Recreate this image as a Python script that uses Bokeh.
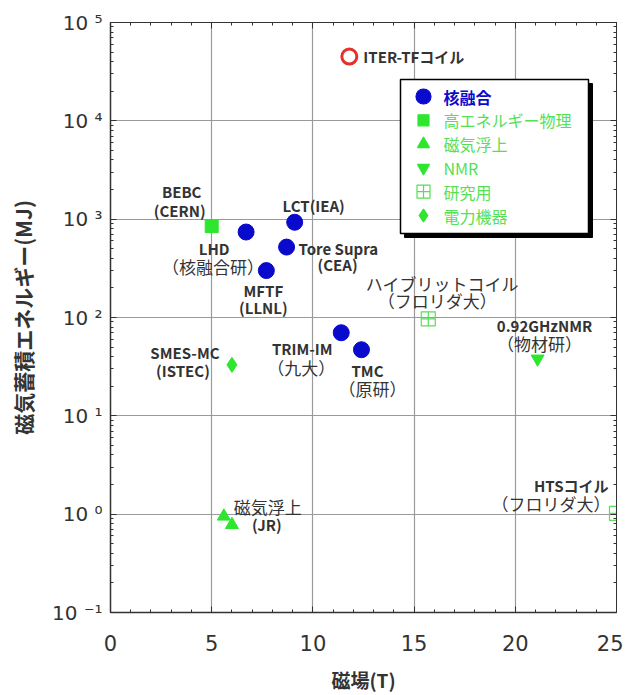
from bokeh.plotting import figure
from bokeh.models import (ColumnDataSource, LinearAxis, LogAxis, Range1d, LinearScale,
                          SingleIntervalTicker, LogTicker, CustomJSTickFormatter)
from bokeh.core.properties import value
from bokeh.embed import file_html
from bokeh.resources import INLINE

# ---------------- data ----------------
fusion_field = [6.7, 9.1, 8.7, 7.7, 11.4, 12.4]          # LHD, LCT, Tore Supra, MFTF, TRIM-IM, TMC
fusion_energy = [740, 930, 520, 300, 70, 47]
hep_field = [5.0]                                         # BEBC
hep_energy = [850]
maglev_field = [5.6, 6.0]                                 # JR maglev
maglev_energy = [0.95, 0.78]
nmr_field = [21.1]                                        # 0.92GHz NMR
nmr_energy = [38]
research_field = [15.7, 25.0]                             # hybrid coil, HTS coil
research_energy = [97, 1.02]
power_field = [6.0]                                       # SMES-MC
power_energy = [33]
iter_field = [11.8]                                       # ITER-TF
iter_energy = [45000]

legend_labels = ["核融合", "高エネルギー物理", "磁気浮上", "NMR", "研究用", "電力機器"]
x_label = "磁場(T)"
y_label = "磁気蓄積エネルギー(MJ)"

# annotation: text, anchor x, anchor y, dx(px), dy(px, down), align, bold
notes = [
    ("ITER-TFコイル", iter_field[0], iter_energy[0], 14, 0, "left", True),
    ("BEBC", hep_field[0], hep_energy[0], -30, -35, "center", True),
    ("(CERN)", hep_field[0], hep_energy[0], -32, -16, "center", True),
    ("LHD", fusion_field[0], fusion_energy[0], -32, 16, "center", True),
    ("（核融合研）", fusion_field[0], fusion_energy[0], -33, 34, "center", False),
    ("LCT(IEA)", fusion_field[1], fusion_energy[1], 19, -17, "center", True),
    ("Tore Supra", fusion_field[2], fusion_energy[2], 12, 1, "left", True),
    ("(CEA)", fusion_field[2], fusion_energy[2], 51, 17, "center", True),
    ("MFTF", fusion_field[3], fusion_energy[3], -3, 20, "center", True),
    ("(LLNL)", fusion_field[3], fusion_energy[3], -3, 37, "center", True),
    ("TRIM-IM", fusion_field[4], fusion_energy[4], -39, 16, "center", True),
    ("（九大）", fusion_field[4], fusion_energy[4], -40, 35, "center", False),
    ("TMC", fusion_field[5], fusion_energy[5], 6, 21, "center", True),
    ("（原研）", fusion_field[5], fusion_energy[5], 11, 39, "center", False),
    ("SMES-MC", power_field[0], power_energy[0], -47, -12, "center", True),
    ("(ISTEC)", power_field[0], power_energy[0], -49, 6, "center", True),
    ("ハイブリットコイル", research_field[0], research_energy[0], 14, -35, "center", False),
    ("（フロリダ大）", research_field[0], research_energy[0], 9, -18, "center", False),
    ("0.92GHzNMR", nmr_field[0], nmr_energy[0], 7, -33, "center", True),
    ("（物材研）", nmr_field[0], nmr_energy[0], 2, -15, "center", False),
    ("磁気浮上", maglev_field[0], maglev_energy[0], 10, -10, "left", False),
    ("(JR)", maglev_field[0], maglev_energy[0], 43, 8, "center", True),
    ("HTSコイル", research_field[1], research_energy[1], -8, -28, "right", True),
    ("（フロリダ大）", research_field[1], research_energy[1], -6, -10, "right", False),
]

# ---------------- styles ----------------
BLUE = "#0a0acc"
GREEN = "#2ee62e"
LGREEN = "#55e055"
RED = "#e8302a"
TXT = "#333333"
JP = "Noto Sans CJK JP"
FW, FH = 506, 590

p = figure(x_range=(0, 25), y_range=(0.1, 1e5), y_axis_type="log",
           frame_width=FW, frame_height=FH,
           min_border_left=110, min_border_right=7, min_border_top=22, min_border_bottom=75,
           output_backend="svg", toolbar_location=None,
           background_fill_color="white", border_fill_color="white")
p.outline_line_color = "#333333"
p.outline_line_width = 1
# pixel-space ranges used only for the hand-drawn legend box
p.extra_x_ranges = {"px": Range1d(0, FW)}
p.extra_y_ranges = {"px": Range1d(0, FH)}
p.extra_x_scales = {"px": LinearScale()}
p.extra_y_scales = {"px": LinearScale()}

# axes
xt = SingleIntervalTicker(interval=5, num_minor_ticks=5)
yt = LogTicker(num_minor_ticks=10)
p.xaxis.ticker = xt
p.yaxis.ticker = yt
p.yaxis.formatter = CustomJSTickFormatter(code="""
const sup = {"-":"\u207b","0":"\u2070","1":"\u00b9","2":"\u00b2","3":"\u00b3","4":"\u2074",
             "5":"\u2075","6":"\u2076","7":"\u2077","8":"\u2078","9":"\u2079"};
const e = Math.round(Math.log10(tick));
return "10 " + String(e).split("").map(c => sup[c]).join("");
""")
for ax in (p.xaxis[0], p.yaxis[0]):
    ax.axis_line_color = "#333333"
    ax.axis_line_width = 1.5
    ax.major_tick_in = 6
    ax.major_tick_out = 0
    ax.minor_tick_in = 3
    ax.minor_tick_out = 0
    ax.major_tick_line_color = "#333333"
    ax.minor_tick_line_color = "#333333"
    ax.major_label_text_font = "DejaVu Sans"
    ax.major_label_text_color = TXT
    ax.axis_label_text_font = JP
    ax.axis_label_text_font_style = "bold"
    ax.axis_label_text_color = TXT
p.xaxis.axis_label_text_font_size = "19px"
p.yaxis.axis_label_text_font_size = "21px"
p.xaxis.major_label_text_font_size = "21px"
p.yaxis.major_label_text_font_size = "20px"
p.xaxis.major_label_standoff = 22
p.yaxis.major_label_standoff = 8
p.xaxis.axis_label = x_label
p.yaxis.axis_label = y_label
p.xaxis.axis_label_standoff = 12
p.yaxis.axis_label_standoff = 11

blank = CustomJSTickFormatter(code="return '';")
top = LinearAxis(ticker=xt, formatter=blank, major_label_text_font_size="0px", major_label_standoff=0,
                 major_tick_in=6, major_tick_out=0, minor_tick_in=3, minor_tick_out=0,
                 axis_line_color="#333333", major_tick_line_color="#333333", minor_tick_line_color="#333333")
right = LogAxis(ticker=yt, formatter=blank, major_label_text_font_size="0px", major_label_standoff=0,
                major_tick_in=6, major_tick_out=0, minor_tick_in=3, minor_tick_out=0,
                axis_line_color="#333333", major_tick_line_color="#333333", minor_tick_line_color="#333333")
p.add_layout(top, "above")
p.add_layout(right, "right")

p.xgrid.grid_line_color = "#9a9a9a"
p.ygrid.grid_line_color = "#9a9a9a"
p.xgrid.grid_line_width = 1.2
p.ygrid.grid_line_width = 1.2
p.ygrid.minor_grid_line_color = None

# ---------------- marks ----------------
p.scatter(fusion_field, fusion_energy, marker="circle", size=16, fill_color=BLUE, line_color=BLUE)
p.scatter(hep_field, hep_energy, marker="square", size=13, fill_color=GREEN, line_color=GREEN)
p.scatter(maglev_field, maglev_energy, marker="triangle", size=13, fill_color=GREEN, line_color=GREEN)
p.scatter(nmr_field, nmr_energy, marker="inverted_triangle", size=13, fill_color=GREEN, line_color=GREEN)
p.scatter(research_field, research_energy, marker="square_cross", size=14,
          fill_color=None, line_color=LGREEN, line_width=1.2)
p.scatter(power_field, power_energy, marker="diamond", size=15, fill_color=GREEN, line_color=GREEN)
p.scatter(iter_field, iter_energy, marker="circle", size=15, fill_color=None, line_color=RED, line_width=3)

# ---------------- annotations ----------------
for align in ("left", "center", "right"):
    for bold in (True, False):
        rows = [n for n in notes if n[5] == align and n[6] == bold]
        if not rows:
            continue
        src = ColumnDataSource(dict(x=[r[1] for r in rows], y=[r[2] for r in rows],
                                    t=[r[0] for r in rows], dx=[r[3] for r in rows], dy=[r[4] for r in rows]))
        p.text(x="x", y="y", text="t", x_offset="dx", y_offset="dy", source=src,
               text_align=align, text_baseline="middle",
               text_font=value(JP), text_font_style="bold" if bold else "normal",
               text_font_size="15px" if bold else "17px", text_color=TXT)

# ---------------- legend (drawn in frame pixel space) ----------------
BOX_L, BOX_R, BOX_T, BOX_B = 290, 478, 533, 379
ROW0, ROW_STEP, MK_X, TX_X = 516, 23.8, 313, 333
leg_markers = ["circle", "square", "triangle", "inverted_triangle", "square_cross", "diamond"]
leg_sizes = [15, 11, 12, 12, 13, 13]
leg_fill = [BLUE, GREEN, GREEN, GREEN, None, GREEN]
leg_line = [BLUE, GREEN, GREEN, GREEN, LGREEN, GREEN]
leg_text_color = [BLUE, LGREEN, LGREEN, LGREEN, LGREEN, LGREEN]
leg_style = ["bold", "normal", "normal", "normal", "normal", "normal"]

p.quad(left=[BOX_L + 4], right=[BOX_R + 4], top=[BOX_T - 4], bottom=[BOX_B - 4],
       x_range_name="px", y_range_name="px", fill_color="black", line_color="black")
p.quad(left=[BOX_L], right=[BOX_R], top=[BOX_T], bottom=[BOX_B],
       x_range_name="px", y_range_name="px", fill_color="white", line_color="black", line_width=1.5)
for i, lab in enumerate(legend_labels):
    yy = ROW0 - i * ROW_STEP
    p.scatter([MK_X], [yy], marker=leg_markers[i], size=leg_sizes[i],
              fill_color=leg_fill[i], line_color=leg_line[i], line_width=1.2,
              x_range_name="px", y_range_name="px")
    p.text([TX_X], [yy], text=[lab], x_range_name="px", y_range_name="px",
           text_align="left", text_baseline="middle", text_font=value(JP),
           text_font_style=leg_style[i], text_font_size="16px", text_color=leg_text_color[i])

open("out.html", "w").write(file_html(p, INLINE))
